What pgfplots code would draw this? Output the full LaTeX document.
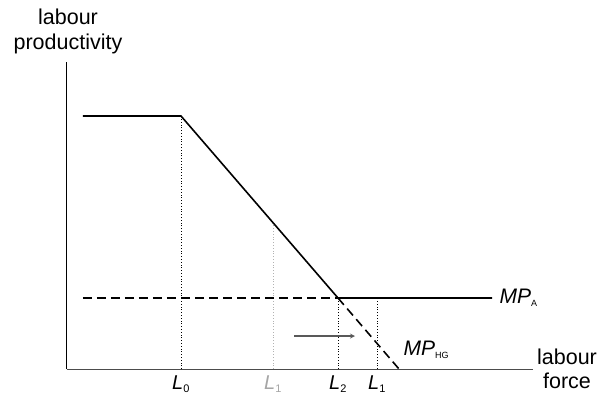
\documentclass[border=0pt]{standalone}
\usepackage{fontspec}
\setmainfont{Liberation Sans}
\usepackage{pgfplots}
\pgfplotsset{compat=1.18}
\begin{document}
\begin{tikzpicture}
\begin{axis}[
  scale only axis, width=466pt, height=307pt,
  xmin=67, xmax=533, ymin=36, ymax=343,
  axis lines=left, axis line style={-, line width=1pt},
  x axis line style={gray!60!black},
  clip=false,
  ytick=\empty,
  xtick={181,273,338,377},
  xticklabels={\textit{L}\textsubscript{\fontsize{11}{11}\selectfont 0}, \textcolor{gray!70}{\textit{L}\textsubscript{\fontsize{11}{11}\selectfont 1}}, \textit{L}\textsubscript{\fontsize{11}{11}\selectfont 2}, \textit{L}\textsubscript{\fontsize{11}{11}\selectfont 1}},
  major tick length=0pt,
  xticklabel style={font=\fontsize{20}{22}\selectfont, yshift=-3pt},
]
\path (axis cs:0,0) rectangle (axis cs:602,405);
% dotted guides
\addplot[black, dotted, line width=0.8pt] coordinates {(181,36) (181,289)};
\addplot[gray!60, dotted, line width=0.8pt] coordinates {(273,36) (273,183)};
\addplot[black, dotted, line width=0.8pt] coordinates {(338,36) (338,107)};
\addplot[black, dotted, line width=0.8pt] coordinates {(377,36) (377,107)};
% main curves
\addplot[black, line width=1.6pt] coordinates {(83,289) (181,289) (338,107) (492,107)};
\addplot[black, line width=1.6pt, dash pattern=on 9pt off 5pt] coordinates {(83,107) (338,107)};
\addplot[black, line width=1.6pt, dash pattern=on 9pt off 5pt] coordinates {(338,107) (399,36)};
% arrow
\addplot[gray!70!black, line width=1.2pt, -stealth] coordinates {(294,69) (355,69)};
% labels
\node[anchor=west, font=\fontsize{21}{24}\selectfont] at (axis cs:496,107) {\textit{MP}\textsubscript{\fontsize{9}{9}\selectfont A}};
\node[anchor=west, font=\fontsize{21}{24}\selectfont] at (axis cs:400,55) {\textit{MP}\textsubscript{\fontsize{9}{9}\selectfont HG}};
\node[align=center, font=\fontsize{21.5}{24}\selectfont] at (axis cs:567,36) {labour\\force};
\node[align=center, font=\fontsize{21.5}{25}\selectfont] at (axis cs:68,374) {labour\\productivity};
\end{axis}
\end{tikzpicture}
\end{document}
